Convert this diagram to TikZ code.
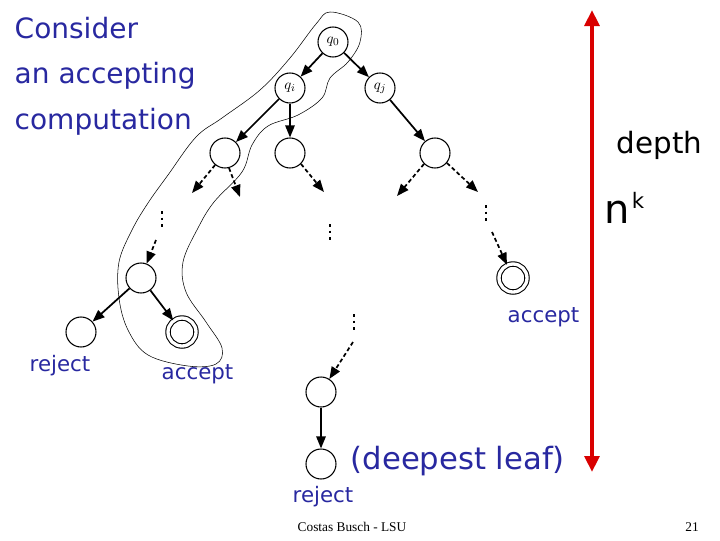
\documentclass[tikz,border=0pt]{standalone}
\usepackage{fontspec}
\setmainfont{DejaVu Sans}
\newfontfamily\footfont{Liberation Serif}
\usetikzlibrary{arrows.meta}
\definecolor{tblue}{RGB}{40,40,160}
\begin{document}
\begin{tikzpicture}[x=0.75pt,y=-0.75pt,
 st/.style={circle,draw,thick,minimum size=22.5pt,inner sep=0pt,font=\fontsize{11}{11}\selectfont},
 acc/.style={st,double,double distance=2.5pt,minimum size=21pt},
 ar/.style={-{Triangle[length=9pt,width=7pt]},line width=1.3pt},
 dar/.style={ar,dash pattern=on 3pt off 2pt},
 dots/.style={line width=1.8pt,dash pattern=on 2pt off 3pt},
 lab/.style={text=tblue,font=\fontsize{16}{16}\selectfont}]
\useasboundingbox (0,0) rectangle (720,540);
% contour
\draw[thin] plot[smooth cycle,tension=0.6] coordinates {(330,12)(358,22)(360,42)(348,62)(330,78)(322,98)(298,115)(268,126)(252,145)(242,172)(214,202)(198,228)(183,262)(186,292)(206,322)(222,348)(216,364)(188,366)(148,355)(128,330)(119,298)(119,262)(132,230)(148,203)(168,175)(196,137)(222,118)(260,90)(290,58)(316,24)};
% nodes
\node[st] (q0) at (333,42) {$q_0$};
\node[st] (qi) at (290,88) {$q_i$};
\node[st] (qj) at (380,88) {$q_j$};
\node[st] (a) at (225,153) {};
\node[st] (b) at (290,153) {};
\node[st] (c) at (435,153) {};
\node[st] (d) at (141,278) {};
\node[acc] (e) at (182,332) {};
\node[st] (r) at (81,332) {};
\node[acc] (ra) at (513,278) {};
\node[st] (f) at (321,392) {};
\node[st] (g) at (321,464) {};
% solid arrows
\draw[ar] (q0) -- (qi);
\draw[ar] (q0) -- (qj);
\draw[ar] (qi) -- (a);
\draw[ar] (qi) -- (b);
\draw[ar] (qj) -- (c);
\draw[ar] (d) -- (r);
\draw[ar] (d) -- (e);
\draw[ar] (f) -- (g);
% dashed stubs
\coordinate (a1) at (192,193); \coordinate (a2) at (240,197);
\coordinate (b1) at (324,192); \coordinate (c1) at (397,196); \coordinate (c2) at (478,192);
\draw[dar] (a) -- (a1);
\draw[dar] (a.-75) -- (a2);
\draw[dar] (b.-45) -- (b1);
\draw[dar] (c.-135) -- (c1);
\draw[dar] (c.-40) -- (c2);
\coordinate (d0) at (156,240); \coordinate (r0) at (492,232); \coordinate (f0) at (353,342);
\draw[dar] (d0) -- (d);
\draw[dar] (r0) -- (ra);
\draw[dar] (f0) -- (f);
% dots
\draw[dots] (162,211) -- (162,229);
\draw[dots] (330,224) -- (330,242);
\draw[dots] (486,205) -- (486,223);
\draw[dots] (354,314) -- (354,332);
% texts
\node[lab,anchor=west,align=left,font=\fontsize{21}{34}\selectfont] (t) at (10,76) {Consider\\an accepting\\computation};
\node[lab,anchor=west] (rl) at (25,366) {reject};
\node[lab,anchor=west] (al) at (157,374) {accept};
\node[lab,anchor=west] (ral) at (503,317) {accept};
\node[lab,anchor=west] (gl) at (288,497) {reject};
\node[lab,anchor=west,font=\fontsize{23}{23}\selectfont] (dl) at (346,461) {(deepest leaf)};
\node[anchor=west,font=\fontsize{22}{22}\selectfont] (dp) at (612,145) {depth};
\node[font=\fontsize{30}{30}\selectfont] (n) at (617,212) {n};
\node[font=\fontsize{16}{16}\selectfont] (k) at (638,200) {k};
\coordinate (top) at (592,10); \coordinate (bot) at (592,472);
\draw[red!85!black,line width=3pt,{Triangle[length=12pt,width=11pt]}-{Triangle[length=12pt,width=11pt]}] (top) -- (bot);
\node[font=\footfont\fontsize{10}{10}\selectfont] (ft) at (352,527) {Costas Busch - LSU};
\node[font=\footfont\fontsize{10}{10}\selectfont] (pg) at (692,527) {21};
\end{tikzpicture}
\end{document}
